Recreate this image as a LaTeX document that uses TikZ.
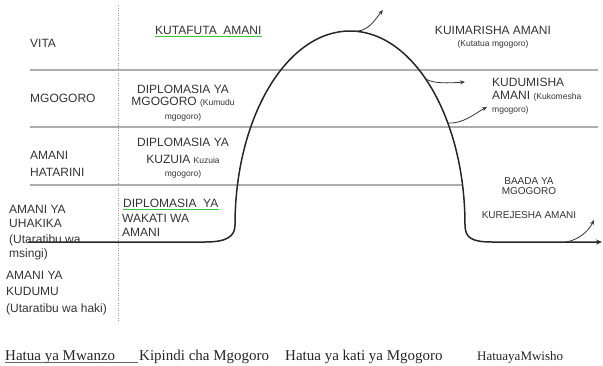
\documentclass[tikz,border=0pt]{standalone}
\usepackage{fontspec}
\setmainfont{Liberation Serif}
\setsansfont{Liberation Sans}
\usetikzlibrary{arrows.meta}
\begin{document}
\begin{tikzpicture}[x=1pt,y=1pt,
  lbl/.style={font=\sffamily\fontsize{12}{14}\selectfont, text=black!80, inner sep=0pt, anchor=base west},
  lblc/.style={lbl, anchor=base},
  lblr/.style={font=\sffamily\fontsize{10}{12}\selectfont, text=black!80, inner sep=0pt, anchor=base},
  sml/.style={font=\sffamily\fontsize{8.5}{10}\selectfont, text=black!80, inner sep=0pt, anchor=base},
  smlw/.style={sml, anchor=base west},
  btm/.style={font=\rmfamily\fontsize{15}{17}\selectfont, text=black!85, inner sep=0pt, anchor=base west},
  band/.style={draw=black!32, line width=1.5pt},
  sep/.style={draw=black!40, line width=0.5pt, dotted},
  curve/.style={draw=black!85, line width=1.5pt, -{Stealth[length=6pt,width=5pt]}},
  branch/.style={draw=black!80, line width=0.8pt, -{Stealth[length=5pt,width=4pt]}},
  spell/.style={draw=green!55!gray, line width=0.5pt}]
\useasboundingbox (0,0) rectangle (603,-365);

% band lines and separator
\coordinate (b1s) at (30,-70);  \coordinate (b1e) at (598,-70);
\coordinate (b2s) at (30,-127); \coordinate (b2e) at (598,-127);
\coordinate (b3s) at (30,-185); \coordinate (b3e) at (462,-185);
\draw[band] (b1s) -- (b1e);
\draw[band] (b2s) -- (b2e);
\draw[band] (b3s) -- (b3e);
\coordinate (vs) at (118,-5); \coordinate (ve) at (118,-322);
\draw[sep] (vs) -- (ve);

% main curve
\coordinate (c0) at (28,-242);
\coordinate (cend) at (602,-242);
\draw[curve] (c0) -- (205,-242) .. controls (226,-242) and (235,-237) .. (235,-225)
  arc[start angle=180, end angle=0, x radius=115pt, y radius=194pt]
  .. controls (465,-238) and (472,-242) .. (492,-242) -- (cend);

% side arrows
\coordinate (pk) at (357,-31.2);   \coordinate (pkE) at (383,-10);
\coordinate (r1) at (425.7,-79);   \coordinate (r1E) at (465,-82);
\coordinate (r2) at (447.8,-123);  \coordinate (r2E) at (487,-107);
\coordinate (bk) at (566,-242);    \coordinate (bkE) at (594,-220);
\draw[branch] (pk) .. controls (370,-30) and (376,-18) .. (pkE);
\draw[branch] (r1) .. controls (434,-84) and (450,-83) .. (r1E);
\draw[branch] (r2) .. controls (463,-124) and (474,-114) .. (r2E);
\draw[branch] (bk) .. controls (578,-240) and (588,-232) .. (bkE);

% left column
\node[lbl] (vita) at (30,-47.5) {VITA};
\node[lbl] (mgo) at (30,-102.5) {MGOGORO};
\node[lbl] (ah1) at (30,-159.5) {AMANI};
\node[lbl] (ah2) at (30,-176.5) {HATARINI};
\node[lbl] (au1) at (9,-213.5) {AMANI YA};
\node[lbl] (au2) at (9,-227.5) {UHAKIKA};
\node[lbl] (au3) at (9,-243.5) {(Utaratibu wa};
\node[lbl] (au4) at (9,-257) {msingi)};
\node[lbl] (ak1) at (6,-279.5) {AMANI YA};
\node[lbl] (ak2) at (6,-295.5) {KUDUMU};
\node[lbl] (ak3) at (6,-312) {(Utaratibu wa haki)};

% middle column
\node[lbl] (kut) at (155,-34.5) {KUTAFUTA\ \ AMANI};
\draw[spell] ([yshift=-2pt]kut.base west) -- ([yshift=-2pt]kut.base east);
\node[lblc] (dm1) at (183,-93.5) {DIPLOMASIA YA};
\node[lblc] (dm2) at (183,-105.5) {MGOGORO {\fontsize{8.5}{10}\selectfont (Kumudu}};
\node[sml] (dm3) at (183,-119) {mgogoro)};
\node[lblc] (dk1) at (183,-146.5) {DIPLOMASIA YA};
\node[lblc] (dk2) at (183,-163.5) {KUZUIA {\fontsize{8.5}{10}\selectfont Kuzuia}};
\node[sml] (dk3) at (183,-176) {mgogoro)};
\node[lbl] (dw1) at (123,-207.5) {DIPLOMASIA\ \ YA};
\draw[spell] ([yshift=-2pt]dw1.base west) -- ([yshift=-2pt]dw1.base east);
\node[lbl] (dw2) at (122,-222.5) {WAKATI WA};
\node[lbl] (dw3) at (122,-236.5) {AMANI};

% right column
\node[lblc] (ki1) at (493,-34.5) {KUIMARISHA AMANI};
\node[sml] (ki2) at (493,-46.5) {(Kutatua mgogoro)};
\node[lbl] (kd1) at (492,-86) {KUDUMISHA};
\node[lbl] (kd2) at (492,-99.5) {AMANI {\fontsize{8.5}{10}\selectfont (Kukomesha}};
\node[smlw] (kd3) at (492,-112) {mgogoro)};
\node[lblr] (ba1) at (529,-184) {BAADA YA};
\node[lblr] (ba2) at (529,-194.5) {MGOGORO};
\node[lblr] (kr) at (529,-218) {KUREJESHA AMANI};

% bottom stages
\node[btm] (h1) at (5,-360) {Hatua ya Mwanzo};
\coordinate (u1e) at (138,-362.5);
\draw[black!60, line width=0.5pt] ([yshift=-2.5pt]h1.base west) -- (u1e);
\node[btm] (h2) at (139,-360) {Kipindi cha Mgogoro};
\node[btm] (h3) at (285,-360) {Hatua ya kati ya Mgogoro};
\node[btm, font=\rmfamily\fontsize{13}{15}\selectfont] (h4) at (477,-360) {HatuayaMwisho};
\end{tikzpicture}
\end{document}
